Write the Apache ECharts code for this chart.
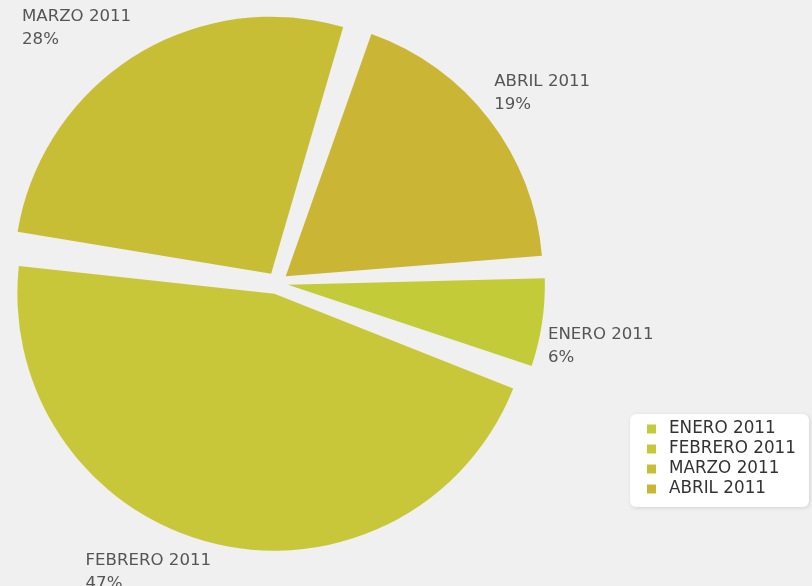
<!DOCTYPE html>
<html>
<head>
<meta charset="utf-8">
<script src="https://cdn.jsdelivr.net/npm/echarts@6/dist/echarts.min.js"></script>
<style>
  html, body { margin: 0; padding: 0; background: #f0f0f0; }
  #chart { width: 812px; height: 586px; }
</style>
</head>
<body>
<div id="chart"></div>
<script>
const categories = ['ENERO 2011', 'FEBRERO 2011', 'MARZO 2011', 'ABRIL 2011'];
const values = [6.4, 46.6, 27.8, 19.2];
const sliceColors = ['#c3cb38', '#c8c73a', '#c8be36', '#cab535'];

const chart = echarts.init(document.getElementById('chart'), null, { renderer: 'canvas' });

const FONT = 'DejaVu Sans';
const CENTER = [277, 283];
const RADIUS = 257;
const START = 3;
const PAD = 3.2;
const OFFSET = 11;
const LABEL_GAP = 17;

const pieBase = {
  type: 'pie',
  center: CENTER,
  radius: RADIUS,
  startAngle: START,
  clockwise: true,
  padAngle: PAD,
  percentPrecision: 0,
  avoidLabelOverlap: false,
  emphasis: { disabled: true },
  labelLine: { show: false }
};

const option = {
  backgroundColor: '#f0f0f0',
  animation: false,
  legend: {
    orient: 'vertical',
    left: 630,
    top: 414,
    data: categories.map((n, i) => ({ name: n, itemStyle: { color: sliceColors[i] } })),
    icon: 'rect',
    itemWidth: 9,
    itemHeight: 9,
    itemGap: 0,
    backgroundColor: '#ffffff',
    borderRadius: 6,
    padding: [5, 13, 8, 17],
    shadowBlur: 4,
    shadowColor: 'rgba(0,0,0,0.12)',
    shadowOffsetX: 1,
    shadowOffsetY: 1,
    textStyle: { fontFamily: FONT, fontSize: 16.8, color: '#333', lineHeight: 20, padding: [0, 0, 0, 8] },
    selectedMode: false
  },
  series: [
    Object.assign({}, pieBase, {
      name: 'slices',
      selectedMode: 'multiple',
      selectedOffset: OFFSET,
      data: categories.map((n, i) => ({ name: n, value: values[i], selected: true, itemStyle: { color: sliceColors[i] } })),
      label: { show: false }
    }),
    Object.assign({}, pieBase, {
      name: 'labels',
      silent: true,
      legendHoverLink: false,
      selectedMode: false,
      itemStyle: { color: 'rgba(0,0,0,0)' },
      data: categories.map((n, i) => ({ name: n, value: values[i] })),
      label: {
        show: true,
        position: 'outside',
        formatter: '{b}\n{d}%',
        fontFamily: FONT,
        fontSize: 16.6,
        lineHeight: 23,
        color: '#555',
        align: 'left'
      },
      labelLayout: function (params) {
        const data = chart.getModel().getSeriesByIndex(params.seriesIndex).getData();
        const l = data.getItemLayout(params.dataIndex);
        const mid = (l.startAngle + l.endAngle) / 2;
        const dx = Math.cos(mid), dy = Math.sin(mid);
        const d = l.r + LABEL_GAP;
        const ax = l.cx + d * dx, ay = l.cy + d * dy;
        const w = params.labelRect.width;
        return {
          x: dx >= 0 ? ax : ax - w,
          y: ay,
          align: 'left',
          verticalAlign: dy >= 0 ? 'top' : 'bottom'
        };
      }
    })
  ]
};
chart.setOption(option);
</script>
</body>
</html>
